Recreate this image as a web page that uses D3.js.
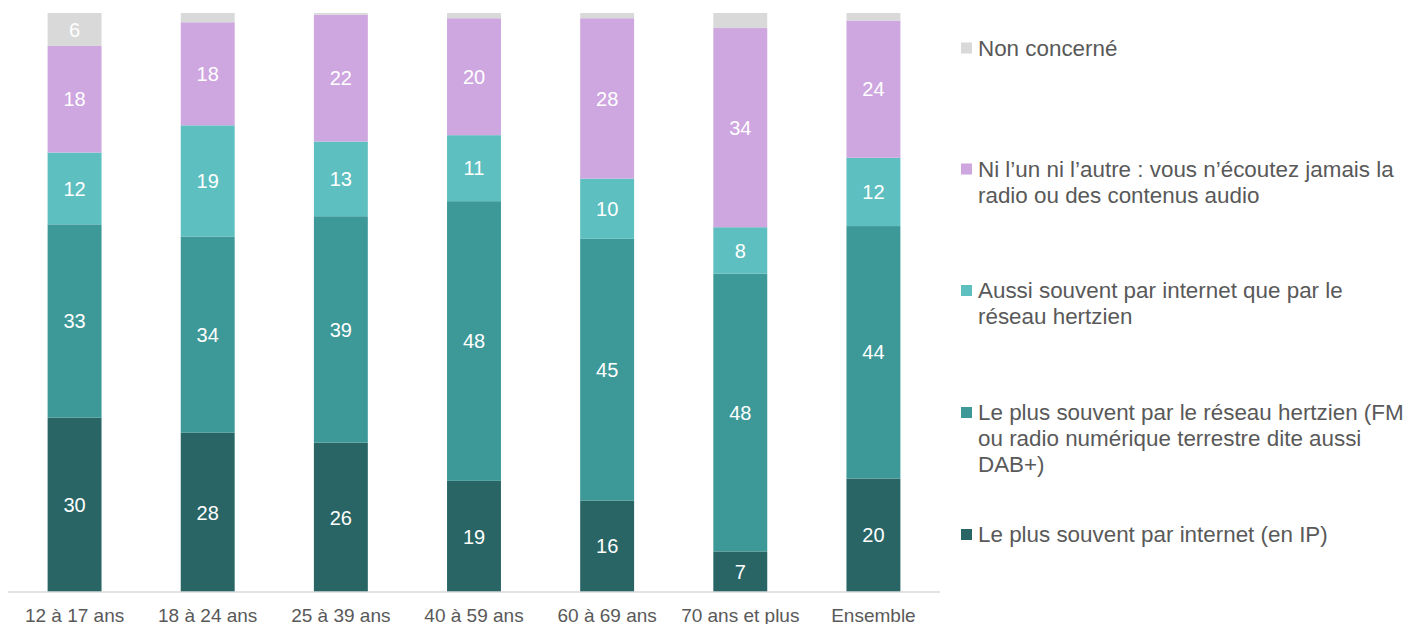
<!DOCTYPE html>
<html>
<head>
<meta charset="utf-8">
<script src="https://cdn.jsdelivr.net/npm/d3@7"></script>
<style>
  html, body { margin: 0; padding: 0; background: #ffffff; }
  svg { display: block; font-family: "Liberation Sans", Arial, sans-serif; }
</style>
</head>
<body>
<svg id="chart" width="1416" height="624"></svg>
<script>
const categories = ["12 à 17 ans", "18 à 24 ans", "25 à 39 ans", "40 à 59 ans", "60 à 69 ans", "70 ans et plus", "Ensemble"];
const seriesNames = [
  "Le plus souvent par internet (en IP)",
  "Le plus souvent par le réseau hertzien (FM ou radio numérique terrestre dite aussi DAB+)",
  "Aussi souvent par internet que par le réseau hertzien",
  "Ni l’un ni l’autre : vous n’écoutez jamais la radio ou des contenus audio",
  "Non concerné"
];
const internetIP   = [30.1, 27.5, 25.8, 19.2, 15.8, 7.0, 19.6];
const hertzien     = [33.4, 33.9, 39.1, 48.3, 45.2, 48.0, 43.6];
const aussiSouvent = [12.4, 19.2, 12.9, 11.4, 10.4, 8.0, 11.8];
const niLunNiLautre = [18.4, 17.8, 21.9, 20.2, 27.7, 34.4, 23.7];
const nonConcerne  = [5.7, 1.6, 0.3, 0.9, 0.9, 2.6, 1.3];
const seriesValues = [internetIP, hertzien, aussiSouvent, niLunNiLautre, nonConcerne];
const colors = ["#296565", "#3d9898", "#5dbfc0", "#cea6e0", "#d9d9d9"];
const legendLines = [
  ["Non concerné"],
  ["Ni l’un ni l’autre : vous n’écoutez jamais la", "radio ou des contenus audio"],
  ["Aussi souvent par internet que par le", "réseau hertzien"],
  ["Le plus souvent par le réseau hertzien (FM", "ou radio numérique terrestre dite aussi", "DAB+)"],
  ["Le plus souvent par internet (en IP)"]
];
const legendColorIdx = [4, 3, 2, 1, 0];

const svg = d3.select("#chart");
const plotLeft = 8, plotRight = 940, plotTop = 13, plotBottom = 592;

const x = d3.scaleBand().domain(categories).range([plotLeft, plotRight]).paddingInner(0.595).paddingOuter(0.2975);
const y = d3.scaleLinear().domain([0, 100]).range([plotBottom, plotTop]);

const rows = categories.map((c, i) => {
  const r = { cat: c };
  seriesValues.forEach((s, k) => r["s" + k] = s[i]);
  return r;
});
const keys = seriesValues.map((_, k) => "s" + k);
const stacked = d3.stack().keys(keys)(rows);

const g = svg.append("g");
stacked.forEach((layer, k) => {
  const lg = g.append("g");
  lg.selectAll("rect").data(layer).enter().append("rect")
    .attr("x", d => x(d.data.cat))
    .attr("width", x.bandwidth())
    .attr("y", d => y(d[1]))
    .attr("height", d => y(d[0]) - y(d[1]))
    .attr("fill", colors[k]);
  lg.selectAll("text").data(layer.filter(d => d[1] - d[0] >= 3)).enter().append("text")
    .attr("x", d => x(d.data.cat) + x.bandwidth() / 2)
    .attr("y", d => (y(d[0]) + y(d[1])) / 2)
    .attr("dy", "0.36em")
    .attr("text-anchor", "middle")
    .attr("fill", "#ffffff")
    .attr("font-size", "20px")
    .text(d => Math.round(d[1] - d[0]));
});

// x axis
const xAxis = d3.axisBottom(x).tickSize(0).tickPadding(0);
const ax = svg.append("g").attr("transform", `translate(0,${plotBottom})`).call(xAxis);
ax.select(".domain").attr("stroke", "#d9d9d9").attr("stroke-width", 1.5)
  .attr("d", `M${plotLeft},0H${plotRight}`);
ax.selectAll("text").attr("font-size", "19px").attr("fill", "#595959")
  .attr("font-family", "Liberation Sans, Arial, sans-serif")
  .attr("y", 29.5).attr("dy", 0);

// legend
const legendY = [55.5, 176.5, 298, 420, 542];
const lgd = svg.append("g");
legendLines.forEach((lines, i) => {
  const gy = legendY[i];
  lgd.append("rect").attr("x", 961).attr("y", gy - 13).attr("width", 11).attr("height", 11)
    .attr("fill", colors[legendColorIdx[i]]);
  const t = lgd.append("text").attr("x", 978).attr("y", gy)
    .attr("font-size", "22.4px").attr("fill", "#595959");
  lines.forEach((ln, j) => {
    t.append("tspan").attr("x", 978).attr("y", gy + j * 26).text(ln);
  });
});
</script>
</body>
</html>
